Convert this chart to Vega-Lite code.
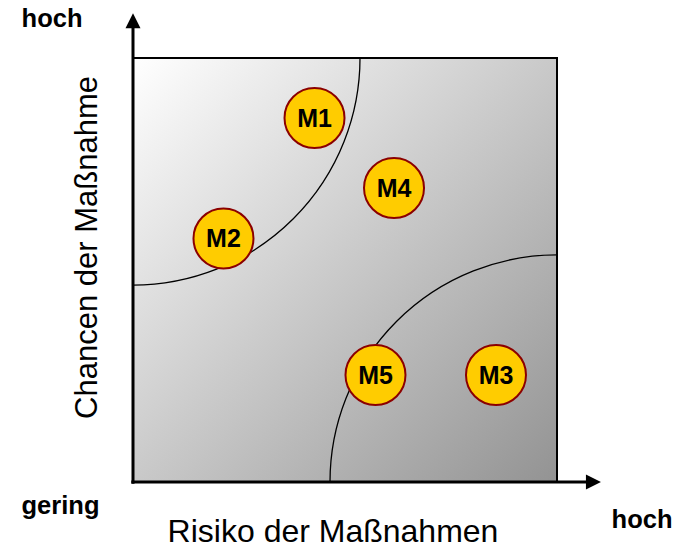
{
  "$schema": "https://vega.github.io/schema/vega-lite/v6.json",
  "width": 424,
  "height": 424,
  "autosize": "none",
  "padding": {"left": 133, "top": 58, "right": 133, "bottom": 64},
  "background": "white",
  "config": {"view": {"stroke": null}, "axis": {"disable": true}},
  "datasets": {
    "square": [{"x": 0, "x2": 10, "y": 0, "y2": 10}],
    "arcs": [{"x": 0, "y": 10}, {"x": 10, "y": 0}],
    "axes": [
      {"x": -0.04, "x2": 10.75, "y": 0, "y2": 0},
      {"x": 0, "x2": 0, "y": -0.04, "y2": 10.75}
    ],
    "arrows": [
      {"x": 10.86, "y": 0, "dir": "right"},
      {"x": 0, "y": 10.88, "dir": "up"}
    ],
    "measures": [
      {"name": "M1", "x": 4.281, "y": 8.585},
      {"name": "M2", "x": 2.134, "y": 5.743},
      {"name": "M3", "x": 8.561, "y": 2.524},
      {"name": "M4", "x": 6.156, "y": 6.934},
      {"name": "M5", "x": 5.719, "y": 2.524}
    ],
    "corners": [
      {"text": "hoch", "x": -1.91, "y": 10.731},
      {"text": "gering", "x": -1.71, "y": -0.755},
      {"text": "hoch", "x": 12.005, "y": -1.085}
    ],
    "xtitle": [{"text": "Risiko der Maßnahmen", "x": 4.717, "y": -1.415}],
    "ytitle": [{"text": "Chancen der Maßnahme", "x": -0.849, "y": 5.531}]
  },
  "layer": [
    {
      "data": {"name": "square"},
      "mark": {
        "type": "rect",
        "fill": {
          "gradient": "linear", "x1": 0, "y1": 0, "x2": 1, "y2": 1,
          "stops": [{"offset": 0, "color": "#ffffff"}, {"offset": 1, "color": "#939393"}]
        },
        "stroke": "black",
        "strokeWidth": 2
      },
      "encoding": {
        "x": {"field": "x", "type": "quantitative", "scale": {"domain": [0, 10], "nice": false, "zero": false}, "axis": null},
        "x2": {"field": "x2"},
        "y": {"field": "y", "type": "quantitative", "scale": {"domain": [0, 10], "nice": false, "zero": false}, "axis": null},
        "y2": {"field": "y2"}
      }
    },
    {
      "data": {"name": "arcs"},
      "mark": {"type": "point", "shape": "circle", "filled": false, "stroke": "black", "strokeWidth": 1.3, "size": 206116, "opacity": 1, "clip": true},
      "encoding": {
        "x": {"field": "x", "type": "quantitative", "axis": null},
        "y": {"field": "y", "type": "quantitative", "axis": null}
      }
    },
    {
      "data": {"name": "axes"},
      "mark": {"type": "rule", "stroke": "black", "strokeWidth": 3, "clip": false},
      "encoding": {
        "x": {"field": "x", "type": "quantitative", "axis": null},
        "x2": {"field": "x2"},
        "y": {"field": "y", "type": "quantitative", "axis": null},
        "y2": {"field": "y2"}
      }
    },
    {
      "data": {"name": "arrows"},
      "mark": {"type": "point", "filled": true, "fill": "black", "strokeWidth": 0, "size": 225, "opacity": 1, "clip": false},
      "encoding": {
        "x": {"field": "x", "type": "quantitative", "axis": null},
        "y": {"field": "y", "type": "quantitative", "axis": null},
        "shape": {"field": "dir", "type": "nominal", "legend": null,
          "scale": {"domain": ["right", "up"], "range": ["M-1,-1L1,0L-1,1Z", "M-1,1L0,-1L1,1Z"]}}
      }
    },
    {
      "data": {"name": "measures"},
      "mark": {"type": "point", "shape": "circle", "filled": true, "fill": "#FFCC00", "stroke": "#8B0000", "strokeWidth": 2, "size": 3600, "opacity": 1},
      "encoding": {
        "x": {"field": "x", "type": "quantitative", "axis": null},
        "y": {"field": "y", "type": "quantitative", "axis": null}
      }
    },
    {
      "data": {"name": "measures"},
      "mark": {"type": "text", "font": "Liberation Sans", "fontWeight": "bold", "fontSize": 25, "color": "black", "align": "center", "baseline": "alphabetic", "dy": 9},
      "encoding": {
        "x": {"field": "x", "type": "quantitative", "axis": null},
        "y": {"field": "y", "type": "quantitative", "axis": null},
        "text": {"field": "name"}
      }
    },
    {
      "data": {"name": "corners"},
      "mark": {"type": "text", "font": "Liberation Sans", "fontWeight": "bold", "fontSize": 25.5, "color": "black", "align": "center", "baseline": "alphabetic", "clip": false},
      "encoding": {
        "x": {"field": "x", "type": "quantitative", "axis": null},
        "y": {"field": "y", "type": "quantitative", "axis": null},
        "text": {"field": "text"}
      }
    },
    {
      "data": {"name": "xtitle"},
      "mark": {"type": "text", "font": "Liberation Sans", "fontSize": 32, "color": "black", "align": "center", "baseline": "alphabetic", "clip": false},
      "encoding": {
        "x": {"field": "x", "type": "quantitative", "axis": null},
        "y": {"field": "y", "type": "quantitative", "axis": null},
        "text": {"field": "text"}
      }
    },
    {
      "data": {"name": "ytitle"},
      "mark": {"type": "text", "font": "Liberation Sans", "fontSize": 31, "color": "black", "align": "center", "baseline": "alphabetic", "angle": 270, "clip": false},
      "encoding": {
        "x": {"field": "x", "type": "quantitative", "axis": null},
        "y": {"field": "y", "type": "quantitative", "axis": null},
        "text": {"field": "text"}
      }
    }
  ]
}
